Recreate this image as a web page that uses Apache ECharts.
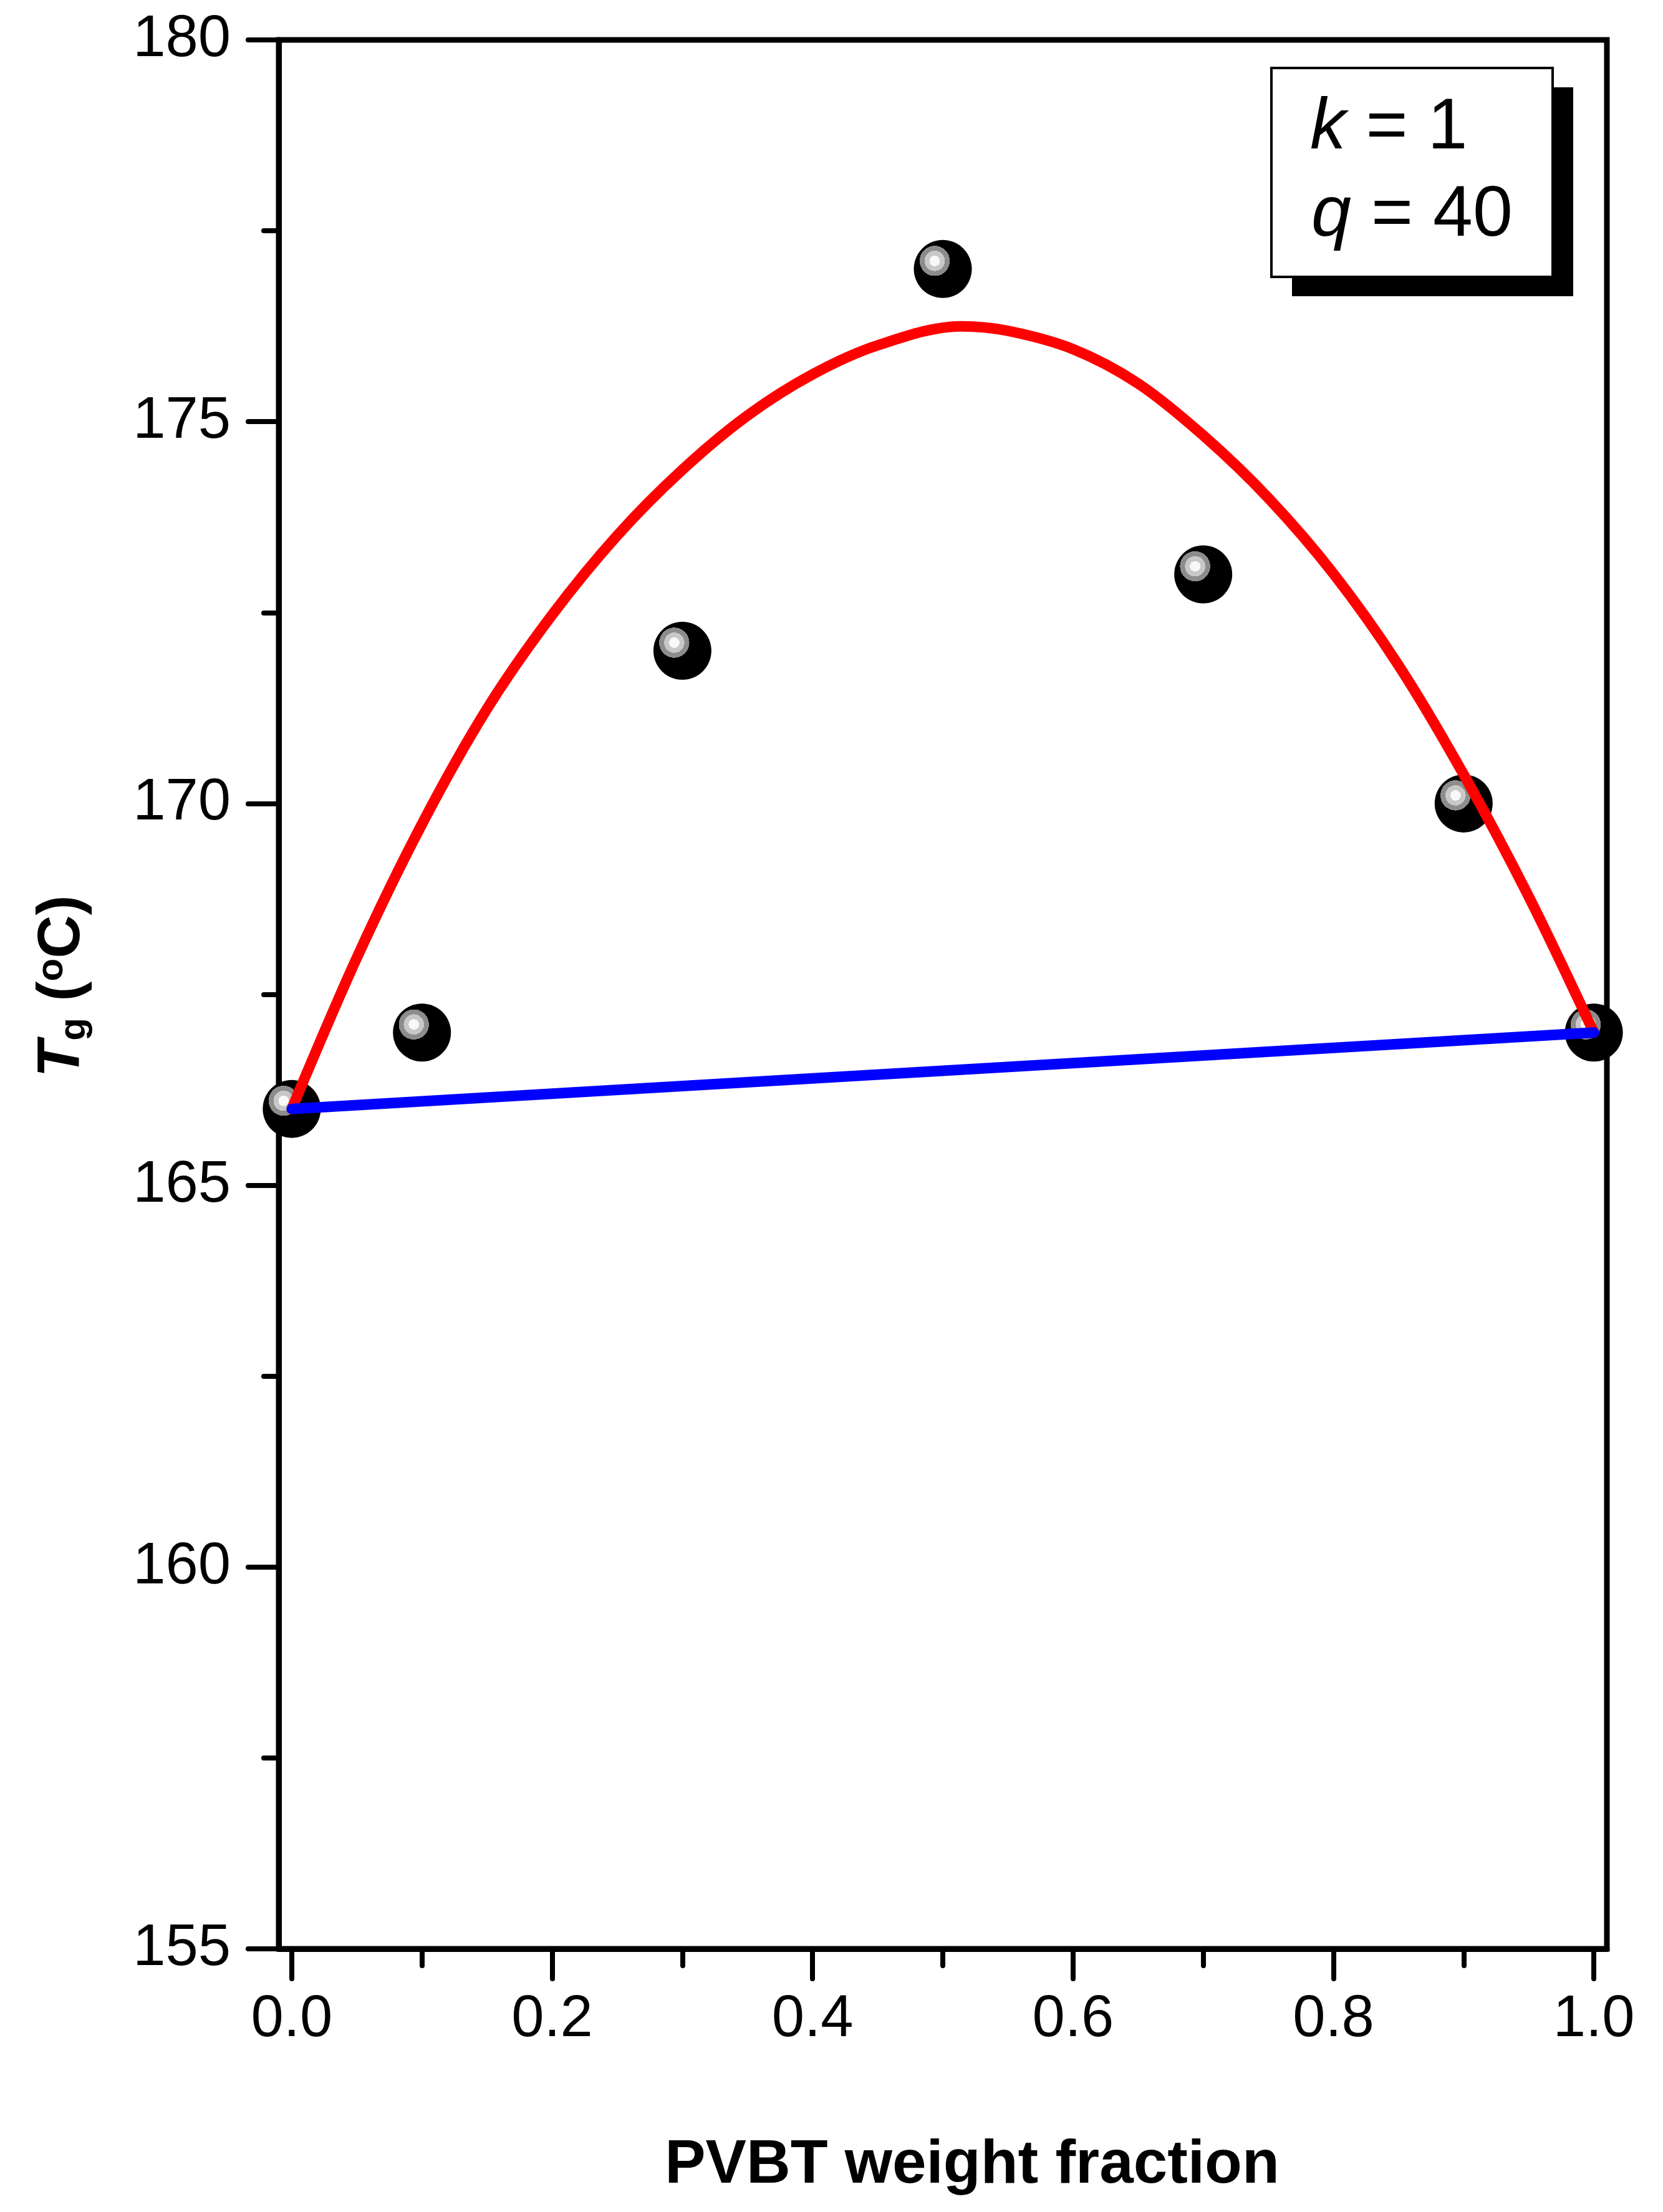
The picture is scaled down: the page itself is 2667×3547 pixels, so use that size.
<!DOCTYPE html>
<html>
<head>
<meta charset="utf-8">
<script src="https://cdn.jsdelivr.net/npm/echarts@6/dist/echarts.min.js"></script>
<style>
html,body{margin:0;padding:0;background:#fff;}
#chart{width:2667px;height:3547px;}
</style>
</head>
<body>
<div id="chart"></div>
<script>
// ---- data ----
const xMajorTicks = [0, 0.2, 0.4, 0.6, 0.8, 1.0];
const xMinorTicks = [0.1, 0.3, 0.5, 0.7, 0.9];
const measuredW  = [0, 0.1, 0.3, 0.5, 0.7, 0.9, 1.0];
const measuredTg = [166, 167, 172, 177, 173, 170, 167];
const fitW  = [0, 0.05, 0.10, 0.15, 0.20, 0.25, 0.30, 0.35, 0.40, 0.45, 0.514, 0.55, 0.60, 0.65, 0.70, 0.75, 0.80, 0.85, 0.90, 0.95, 1.00];
const fitTg = [166.00, 167.98, 169.73, 171.24, 172.47, 173.51, 174.37, 175.08, 175.62, 176.00, 176.25, 176.19, 175.95, 175.50, 174.82, 174.00, 173.01, 171.81, 170.38, 168.78, 167.00];
const linearW  = [0, 1];
const linearTg = [166, 167];
const yMin = 155, yMax = 180, yStep = 5;
const xMin = -0.01, xMax = 1.01;

const pair = (xs, ys) => xs.map((x, i) => [x, ys[i]]);

const chart = echarts.init(document.getElementById('chart'), null, {renderer: 'canvas'});
const FONT = 'Liberation Sans, Arial, sans-serif';

const ballFill = new echarts.graphic.RadialGradient(0.36, 0.36, 0.5, [
  {offset: 0, color: '#f8f8f8'}, {offset: 0.18, color: '#f8f8f8'},
  {offset: 0.18, color: '#c8c8c8'}, {offset: 0.35, color: '#c8c8c8'},
  {offset: 0.35, color: '#8c8c8c'}, {offset: 0.52, color: '#8c8c8c'},
  {offset: 0.52, color: '#000000'}, {offset: 1, color: '#000000'}
]);

const option = {
  backgroundColor: '#ffffff',
  animation: false,
  grid: {
    left: 447, top: 64, width: 2130, height: 3061,
    show: true, borderColor: '#000', borderWidth: 9, backgroundColor: 'transparent'
  },
  xAxis: [{
    type: 'value', min: xMin, max: xMax, position: 'bottom',
    axisLine: {show: true, onZero: false, lineStyle: {color: '#000', width: 9}},
    axisTick: {show: true, inside: false, length: 48, customValues: xMajorTicks,
               lineStyle: {color: '#000', width: 8, cap: 'round'}},
    axisLabel: {show: true, customValues: xMajorTicks, margin: 67,
                color: '#000', fontFamily: FONT, fontSize: 94, lineHeight: 94,
                formatter: v => v.toFixed(1)},
    splitLine: {show: false},
    name: 'PVBT weight fraction', nameLocation: 'middle', nameGap: 299,
    nameTextStyle: {color: '#000', fontFamily: FONT, fontSize: 98, fontWeight: 'bold',
                    lineHeight: 98, padding: [0, 0, 0, 94]}
  }, {
    type: 'value', min: xMin, max: xMax, position: 'bottom', gridIndex: 0,
    axisLine: {show: false, onZero: false},
    axisTick: {show: true, inside: false, length: 27, customValues: xMinorTicks,
               lineStyle: {color: '#000', width: 8, cap: 'round'}},
    axisLabel: {show: false},
    splitLine: {show: false}
  }],
  yAxis: [{
    type: 'value', min: yMin, max: yMax, interval: yStep, position: 'left',
    axisLine: {show: true, onZero: false, lineStyle: {color: '#000', width: 9}},
    axisTick: {show: true, inside: false, length: 49, lineStyle: {color: '#000', width: 8, cap: 'round'}},
    minorTick: {show: true, splitNumber: 2, length: 24, lineStyle: {color: '#000', width: 8, cap: 'round'}},
    axisLabel: {margin: 77, color: '#000', fontFamily: FONT, fontSize: 94},
    splitLine: {show: false},
    name: '{t|T}{g|g}{p| (}{o|o}{p|C)}',
    nameLocation: 'middle', nameGap: 298,
    nameTextStyle: {
      color: '#000', fontFamily: FONT, padding: [0, 0, 0, 26],
      rich: {
        t: {fontFamily: FONT, fontSize: 96, fontWeight: 'bold', fontStyle: 'italic', lineHeight: 96, verticalAlign: 'top', color: '#000'},
        g: {fontFamily: FONT, fontSize: 60, fontWeight: 'bold', lineHeight: 60, padding: [66, 0, 0, 0], verticalAlign: 'bottom', color: '#000'},
        p: {fontFamily: FONT, fontSize: 96, fontWeight: 'bold', lineHeight: 96, verticalAlign: 'top', color: '#000'},
        o: {fontFamily: FONT, fontSize: 60, fontWeight: 'bold', lineHeight: 28, verticalAlign: 'top', color: '#000'}
      }
    }
  }],
  series: [{
    name: 'measured', type: 'scatter', xAxisIndex: 0, yAxisIndex: 0,
    data: pair(measuredW, measuredTg),
    symbol: 'circle', symbolSize: 93, clip: true, z: 2,
    itemStyle: {color: ballFill, opacity: 1}
  }, {
    name: 'Kwei', type: 'line', xAxisIndex: 0, yAxisIndex: 0,
    data: pair(fitW, fitTg), smooth: 0.33, showSymbol: false, symbol: 'none', z: 3,
    lineStyle: {color: '#ff0000', width: 17, cap: 'round', join: 'round'}
  }, {
    name: 'linear', type: 'line', xAxisIndex: 0, yAxisIndex: 0,
    data: pair(linearW, linearTg), showSymbol: false, symbol: 'none', z: 4,
    lineStyle: {color: '#0000ff', width: 17, cap: 'round'}
  }],
  graphic: [{
    type: 'group', left: 2037, top: 107, z: 100,
    children: [
      {type: 'rect', shape: {x: 33, y: 31, width: 451, height: 335}, style: {fill: '#000'}},
      {type: 'rect', shape: {x: 0, y: 0, width: 451, height: 335}, style: {fill: '#fff', stroke: '#000', lineWidth: 4}},
      {type: 'text', x: 62, y: 97, style: {
        text: '{i|k} = 1', fill: '#000', font: '115px ' + FONT, textVerticalAlign: 'middle',
        rich: {i: {fontFamily: FONT, fontSize: 115, fontStyle: 'italic', fill: '#000'}}
      }},
      {type: 'text', x: 64, y: 237, style: {
        text: '{i|q} = 40', fill: '#000', font: '115px ' + FONT, textVerticalAlign: 'middle',
        rich: {i: {fontFamily: FONT, fontSize: 115, fontStyle: 'italic', fill: '#000'}}
      }}
    ]
  }]
};
chart.setOption(option);
</script>
</body>
</html>
